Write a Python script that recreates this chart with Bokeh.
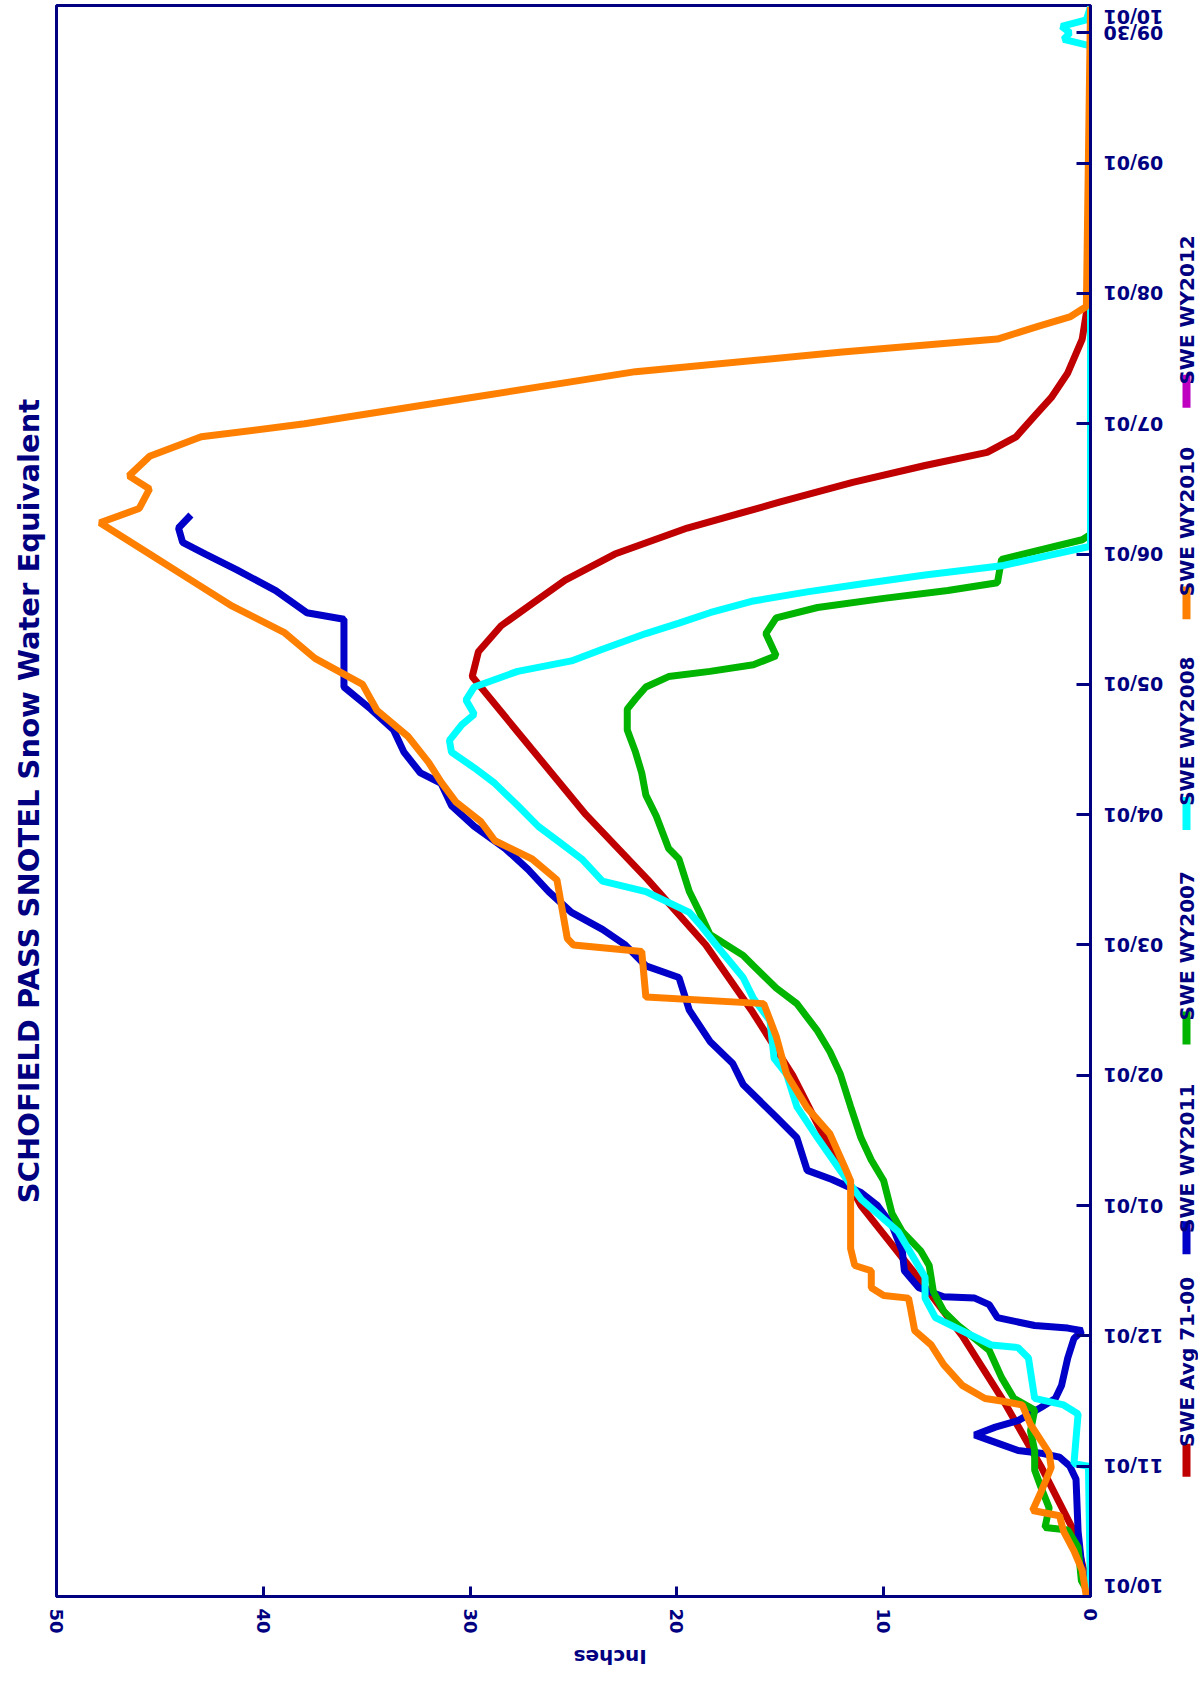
import math
from bokeh.plotting import figure
from bokeh.models import Range1d, FixedTicker, Title
from bokeh.layouts import row
from bokeh.embed import file_html
from bokeh.resources import INLINE
from bokeh.core.properties import value

NAVY = "#000080"

# ---- data (x = month index from 10/01, y = inches) ----
date_labels = ["10/01", "11/01", "12/01", "01/01", "02/01", "03/01", "04/01",
               "05/01", "06/01", "07/01", "08/01", "09/01", "09/30"]
end_label = "10/01"
end_pos = 12.21
inch_ticks = [0, 10, 20, 30, 40, 50]

red_m = [0, 0.5, 1, 1.5, 2, 2.5, 3, 3.5, 4, 4.5, 5, 5.5, 6, 6.5, 7.06, 7.25, 7.45, 7.62,
         7.8, 8.0, 8.2, 8.4, 8.55, 8.68, 8.78, 8.9, 9.06, 9.2, 9.39, 9.65, 9.85, 10.1, 12.2]
red_v = [0, 0.8, 2.4, 4.2, 6.2, 8.6, 11.1, 12.8, 14.4, 16.4, 18.6, 21.4, 24.4, 27.0, 29.9, 29.6, 28.5, 27.0,
         25.4, 23.0, 19.5, 15.0, 11.5, 8.0, 5.0, 3.6, 2.7, 1.9, 1.1, 0.4, 0.2, 0, 0]

blue_m = [0, 0.2, 0.5, 0.9, 1.0, 1.07, 1.1, 1.12, 1.2, 1.24, 1.3, 1.35, 1.45, 1.52, 1.62, 1.83,
          1.98, 2.04, 2.06, 2.08, 2.14, 2.24, 2.29, 2.3, 2.37, 2.5, 2.65, 2.85, 3.0, 3.1, 3.2,
          3.27, 3.52, 3.68, 3.93, 4.09, 4.26, 4.5, 4.75, 4.84, 5.0, 5.12, 5.25, 5.41, 5.58,
          5.74, 5.91, 6.07, 6.24, 6.32, 6.48, 6.65, 6.81, 6.98, 7.5, 7.55, 7.72, 7.88, 8.0,
          8.09, 8.2, 8.3]
blue_v = [0, 0.4, 0.6, 0.7, 1.0, 1.5, 2.4, 3.5, 4.9, 5.6, 4.6, 3.5, 2.4, 1.7, 1.4, 1.1,
          0.8, 0.4, 1.1, 2.7, 4.5, 4.9, 5.6, 7.1, 8.3, 9.0, 9.1, 9.6, 10.3, 11.1, 12.5,
          13.7, 14.2, 15.2, 16.8, 17.3, 18.4, 19.4, 19.9, 21.5, 22.5, 23.6, 25.1, 26.2, 27.2,
          28.3, 29.8, 30.9, 31.4, 32.4, 33.2, 33.7, 34.8, 36.1, 36.1, 37.9, 39.4, 41.3, 42.8,
          43.9, 44.1, 43.5]

green_m = [0, 0.12, 0.38, 0.51, 0.53, 0.68, 0.84, 0.97, 1.12, 1.27, 1.43, 1.52, 1.68, 1.89,
           1.98, 2.08, 2.19, 2.34, 2.54, 2.65, 2.8, 2.94, 3.19, 3.35, 3.52, 3.76, 4.01, 4.18,
           4.34, 4.55, 4.67, 4.84, 4.92, 5.08, 5.25, 5.41, 5.66, 5.74, 5.99, 6.15, 6.32, 6.48,
           6.65, 6.81, 6.89, 6.98, 7.06, 7.10, 7.15, 7.22, 7.39, 7.51, 7.59, 7.66, 7.72, 7.78,
           7.96, 8.11, 8.15, 12.2]
green_v = [0, 0.44, 0.6, 1.1, 2.2, 2.0, 2.4, 2.7, 2.7, 2.9, 2.7, 3.7, 4.3, 4.9,
           5.6, 6.4, 7.1, 7.6, 7.8, 8.2, 9.1, 9.6, 10.0, 10.6, 11.1, 11.6, 12.1, 12.6,
           13.2, 14.2, 15.2, 16.3, 16.8, 18.4, 18.9, 19.4, 19.9, 20.4, 21.0, 21.5, 21.7, 22.0,
           22.4, 22.4, 22.0, 21.5, 20.4, 18.4, 16.3, 15.2, 15.7, 15.2, 13.2, 10.0, 6.9, 4.5,
           4.3, 0.4, 0, 0]

cyan_m = [0, 1.0, 1.02, 1.4, 1.47, 1.52, 1.83, 1.91, 1.93, 2.14, 2.29, 2.45, 2.8, 3.05, 3.27,
          3.52, 3.76, 4.01, 4.13, 4.42, 4.59, 4.75, 5.0, 5.16, 5.25, 5.41, 5.49, 5.66, 5.78,
          5.91, 6.07, 6.24, 6.36, 6.48, 6.57, 6.69, 6.77, 6.88, 6.98, 7.10, 7.18, 7.27, 7.39,
          7.47, 7.55, 7.64, 7.71, 7.77, 7.84, 7.91, 8.06, 11.9, 11.95, 12.0, 12.05, 12.1, 12.2]
cyan_v = [0, 0.1, 0.8, 0.6, 1.3, 2.7, 3.0, 3.5, 4.8, 7.5, 8.0, 8.0, 9.3, 11.1, 12.1,
          13.2, 14.2, 14.7, 15.3, 15.5, 16.3, 16.8, 18.1, 18.9, 19.4, 21.5, 23.6, 24.6, 25.6,
          26.7, 27.7, 28.8, 29.8, 30.9, 31.0, 30.4, 29.8, 30.2, 29.8, 27.7, 25.1, 23.6, 21.5,
          19.9, 18.4, 16.3, 13.7, 11.1, 8.0, 4.3, 0, 0, 1.3, 1.0, 1.4, 0.2, 0]

orange_m = [0, 0.2, 0.35, 0.5, 0.62, 0.66, 0.8, 0.99, 1.1, 1.32, 1.47, 1.5, 1.52, 1.62, 1.78,
            1.93, 2.04, 2.21, 2.29, 2.31, 2.37, 2.5, 2.54, 2.67, 3.19, 3.3, 3.55, 3.75, 4.01,
            4.3, 4.55, 4.6, 4.95, 5.0, 5.05, 5.5, 5.66, 5.8, 5.95, 6.1, 6.25, 6.4, 6.6, 6.8,
            7.0, 7.2, 7.4, 7.6, 7.8, 8.0, 8.24, 8.35, 8.5, 8.6, 8.75, 8.9, 9.0, 9.2, 9.4,
            9.55, 9.65, 9.75, 9.82, 9.9, 12.2]
orange_v = [0.2, 0.4, 0.8, 1.3, 1.5, 2.8, 2.4, 1.9, 2.0, 2.9, 3.3, 4.3, 5.1, 6.2, 7.1,
            7.7, 8.5, 8.7, 8.8, 10.0, 10.6, 10.6, 11.4, 11.6, 11.6, 11.9, 12.6, 13.7, 14.7,
            15.2, 15.8, 21.5, 21.7, 25.0, 25.3, 25.8, 27.0, 28.8, 29.5, 30.7, 31.4, 32.0, 33.0, 34.5,
            35.2, 37.5, 39.0, 41.5, 43.5, 45.5, 47.9, 46.0, 45.5, 46.5, 45.5, 43.0, 38.0, 30.0, 22.0,
            12.0, 4.5, 2.5, 1.0, 0.2, 0]

legend_names = ["SWE Avg 71-00", "SWE WY2011", "SWE WY2007", "SWE WY2008", "SWE WY2010", "SWE WY2012"]
legend_colors = ["#c00000", "#0000c8", "#00b400", "#00ffff", "#ff8000", "#c000c0"]

series = [(red_m, red_v), (blue_m, blue_v), (green_m, green_v), (cyan_m, cyan_v), (orange_m, orange_v)]

TOP, FRAME_H, BOTTOM = 5, 1594, 84
LEFT, FRAME_W, RIGHT = 56, 1034, 12
H = TOP + FRAME_H + BOTTOM
PW = LEFT + FRAME_W + RIGHT
p = figure(width=PW, height=H, x_range=Range1d(50, 0), y_range=Range1d(0, 12.21),
           y_axis_location="right", output_backend="svg", toolbar_location=None,
           min_border_left=LEFT, min_border_right=RIGHT, min_border_top=TOP, min_border_bottom=BOTTOM)
p.grid.visible = False
p.outline_line_color = NAVY
p.outline_line_width = 3
p.background_fill_color = "white"

title = Title(text="SCHOFIELD PASS SNOTEL Snow Water Equivalent", align="center",
              vertical_align="middle", text_font_size="29px", text_color=NAVY,
              text_font="DejaVu Sans", text_font_style="bold", standoff=20)
p.add_layout(title, "left")

xa = p.xaxis[0]
xa.ticker = FixedTicker(ticks=inch_ticks)
xa.major_label_orientation = "vertical"
xa.axis_label = "Inches"
if hasattr(xa, "axis_label_orientation"):
    xa.axis_label_orientation = math.pi
xa.axis_label_text_color = NAVY
xa.axis_label_text_font = "DejaVu Sans"
xa.axis_label_text_font_style = "bold"
xa.axis_label_text_font_size = "20px"
xa.axis_label_standoff = 20
ya = p.yaxis[0]
ya.ticker = FixedTicker(ticks=list(range(len(date_labels))))
ya.major_label_overrides = {i: "" for i in range(len(date_labels))}
ya.major_label_standoff = 0
for ax in (xa, ya):
    ax.axis_line_color = NAVY
    ax.axis_line_width = 3
    ax.major_tick_line_color = NAVY
    ax.major_tick_line_width = 3
    ax.major_tick_out = 0
    ax.minor_tick_line_color = None
    ax.major_label_text_color = NAVY
    ax.major_label_text_font = "DejaVu Sans"
    ax.major_label_text_font_style = "bold"
    ax.major_label_text_font_size = "18px"
xa.major_tick_in = 10
ya.major_tick_in = 14
xa.major_label_standoff = 12

for (m, v), c in zip(series, legend_colors):
    p.line(x=v, y=m, line_color=c, line_width=7)

# ---- right panel: upside-down date labels (shared date scale) + legend ----
lg = figure(width=1198 - PW, height=H, x_range=Range1d(PW, 1198), y_range=p.y_range,
            output_backend="svg", toolbar_location=None,
            min_border_left=0, min_border_right=0, min_border_top=TOP, min_border_bottom=BOTTOM)
lg.extra_y_ranges = {"px": Range1d(TOP + FRAME_H, TOP)}
lg.axis.visible = False
lg.grid.visible = False
lg.outline_line_color = None
date_style = dict(angle=math.pi, text_align="right", text_color=NAVY,
                  text_font=value("DejaVu Sans"), text_font_style="bold", text_font_size="19px")
lg.text(x=[PW + 1] * (len(date_labels) - 1), y=list(range(1, len(date_labels))),
        text=date_labels[1:], text_baseline="middle", **date_style)
lg.text(x=[PW + 1], y=[0], text=date_labels[:1], text_baseline="top", **date_style)
lg.text(x=[PW + 1], y=[end_pos], text=[end_label], text_baseline="bottom", **date_style)

bar_bottom = [1479, 1256, 1046, 831, 620, 408]
bar_len = 33
text_center = [1364, 1160, 947, 732, 522, 310]
lg.quad(left=[1182] * 6, right=[1190] * 6, bottom=bar_bottom, top=[b - bar_len for b in bar_bottom],
        fill_color=legend_colors, line_color=None, y_range_name="px")
lg.text(x=[1186] * 6, y=text_center, text=legend_names, angle=math.pi / 2,
        text_align="center", text_baseline="middle", text_color=NAVY,
        text_font=value("DejaVu Sans"), text_font_size="20px", text_font_style="bold",
        y_range_name="px")

open("out.html", "w").write(file_html(row(p, lg), INLINE))
